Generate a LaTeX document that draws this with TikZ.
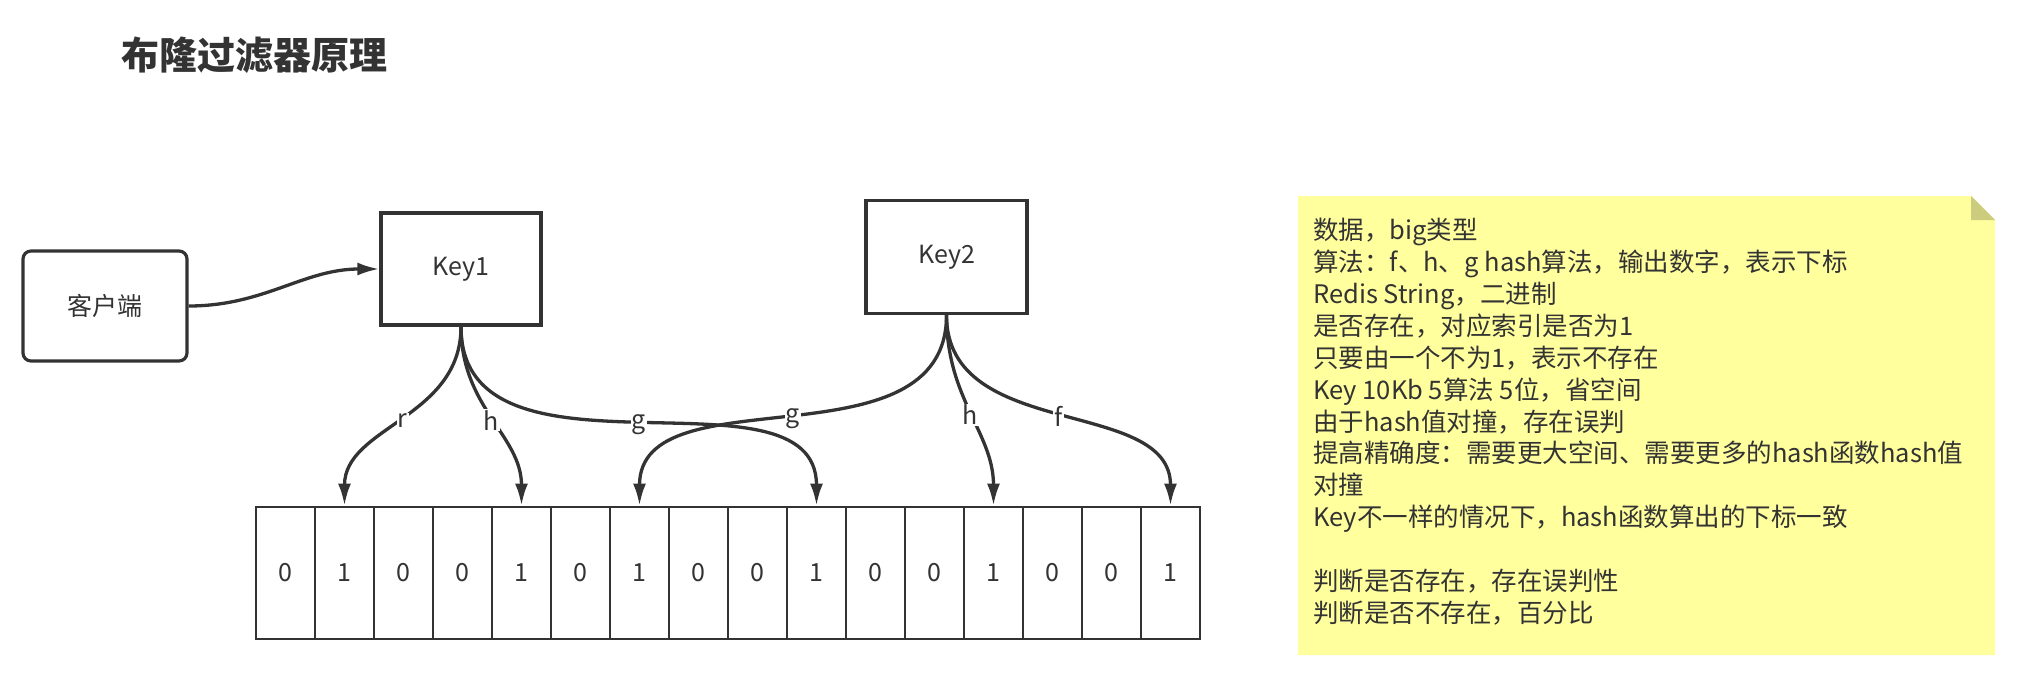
\documentclass[tikz,border=0pt]{standalone}
\usepackage{fontspec}
\setmainfont{Noto Sans CJK SC}
\usetikzlibrary{arrows.meta}
\definecolor{ink}{HTML}{333333}
\definecolor{notefill}{HTML}{FFFF9E}
\definecolor{notefold}{HTML}{CCCC7E}
\begin{document}
\begin{tikzpicture}[x=1pt,y=-1pt,
    box/.style={draw=ink, line width=3.2pt, text=ink, font=\fontsize{25}{30}\selectfont},
    cellbox/.style={draw=ink, line width=2.8pt, minimum width=59pt, minimum height=132pt,
      inner sep=0pt, text=ink, font=\fontsize{25}{30}\selectfont},
    hashline/.style={draw=ink, line width=3.3pt, -{Latex[length=22pt,width=13pt]},
      out=-90, in=90, out looseness=1.1, in looseness=0.95},
    hashlabel/.style={fill=white, text=ink, inner sep=1pt, font=\fontsize{25}{30}\selectfont}]
  \useasboundingbox (0,0) rectangle (2021,680);

  \node[anchor=west, text=ink, font=\fontsize{38}{40}\selectfont\bfseries] (title) at (118,55) {布隆过滤器原理};

  % client and keys
  \node[box, rounded corners=8pt, minimum width=164pt, minimum height=110pt] (client) at (105,306) {客户端};
  \node[box, minimum width=160pt, minimum height=112pt] (key1) at (461,269) {Key1};
  \node[box, minimum width=161pt, minimum height=113pt] (key2) at (946.5,257) {Key2};

  \draw[draw=ink, line width=3.3pt, -{Latex[length=22pt,width=13pt]}, out=0, in=180]
    (client.east) to (key1.west);

  % bit array
  \foreach \v [count=\i from 0] in {0,1,0,0,1,0,1,0,0,1,0,0,1,0,0,1}
    \node[cellbox] (c\i) at (285.5+59*\i,573) {\v};

  \draw[hashline] (key1.south) to node[hashlabel] {r} (c1.north);
  \draw[hashline] (key1.south) to node[hashlabel] {h} (c4.north);
  \draw[hashline] (key1.south) to node[hashlabel] {g} (c9.north);
  \draw[hashline] (key2.south) to node[hashlabel] {g} (c6.north);
  \draw[hashline] (key2.south) to node[hashlabel] {h} (c12.north);
  \draw[hashline] (key2.south) to node[hashlabel] {f} (c15.north);

  % note
  \fill[notefill] (1298,196) -- (1971,196) -- (1995,220) -- (1995,655) -- (1298,655) -- cycle;
  \fill[notefold] (1971,196) -- (1971,220) -- (1995,220) -- cycle;
  \node[anchor=north west, inner sep=0pt, align=left, text=ink,
    font=\fontsize{25.5}{31.9}\selectfont] (notes) at (1313,218) {%
    数据，big类型\\
    算法：f、h、g hash算法，输出数字，表示下标\\
    Redis String，二进制\\
    是否存在，对应索引是否为1\\
    只要由一个不为1，表示不存在\\
    Key 10Kb 5算法 5位，省空间\\
    由于hash值对撞，存在误判\\
    提高精确度：需要更大空间、需要更多的hash函数hash值\\
    对撞\\
    Key不一样的情况下，hash函数算出的下标一致\\
    \mbox{}\\
    判断是否存在，存在误判性\\
    判断是否不存在，百分比};
\end{tikzpicture}
\end{document}
